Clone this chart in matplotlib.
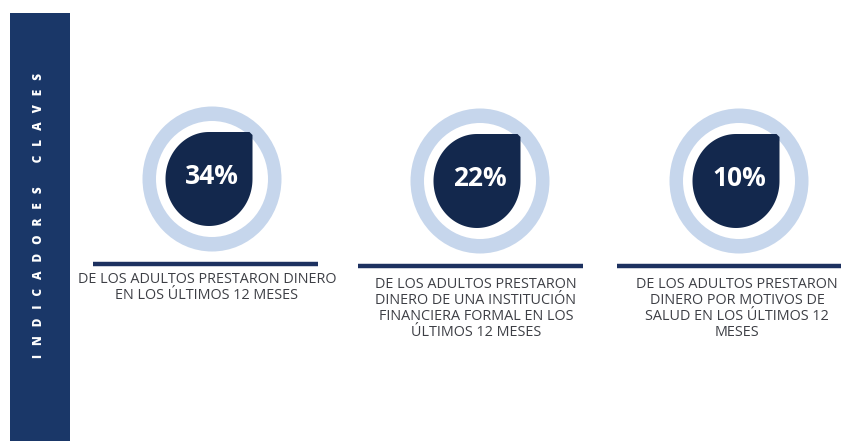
import numpy as np
import matplotlib
matplotlib.use("Agg")
import matplotlib.pyplot as plt
from matplotlib.patches import Ellipse, Rectangle, Polygon

# ---- data ----
percent_values = [34, 22, 10]
captions = [
    "DE LOS ADULTOS PRESTARON DINERO\nEN LOS ÚLTIMOS 12 MESES",
    "DE LOS ADULTOS PRESTARON\nDINERO DE UNA INSTITUCIÓN\nFINANCIERA FORMAL EN LOS\nÚLTIMOS 12 MESES",
    "DE LOS ADULTOS PRESTARON\nDINERO POR MOTIVOS DE\nSALUD EN LOS ÚLTIMOS 12\nMESES",
]
sidebar_title = "INDICADORES CLAVES"

# ---- layout (pixel coordinates) ----
W, H = 841, 441
ring_cx = [212, 480, 739]
ring_cy = [179, 181, 181]
dark_dx = -3
line_x0 = [93, 358, 617]
line_x1 = [318, 583, 841]
line_y = [264, 266, 266]
text_cx = [207, 476, 737]
text_y0 = [270, 275, 275]

NAVY = "#13284d"
RING = "#c6d6ec"
SIDEBAR = "#1a3768"
LINE = "#1d3160"
TXT = "#3d3f45"

fig = plt.figure(figsize=(W / 100, H / 100), dpi=100)
ax = fig.add_axes([0, 0, 1, 1])
ax.set_xlim(0, W)
ax.set_ylim(H, 0)
ax.axis("off")
fig.patch.set_facecolor("white")

# sidebar
ax.add_patch(Rectangle((10, 13), 60, H - 13, facecolor=SIDEBAR, edgecolor="none"))
spaced = (" " * 8).join("   ".join(w) for w in sidebar_title.split())
ax.text(39, 215, spaced, rotation=90, ha="center", va="center",
        color="white", fontsize=8.5, fontweight="heavy", family="Open Sans")

rx_out, ry_out = 69.5, 72.5
ring_w = 13.5
rx_d, ry_d = 43.5, 47

for i, v in enumerate(percent_values):
    cx, cy = ring_cx[i], ring_cy[i]
    # ring
    ax.add_patch(Ellipse((cx, cy), 2 * rx_out, 2 * ry_out, facecolor=RING, edgecolor="none"))
    ax.add_patch(Ellipse((cx, cy), 2 * (rx_out - ring_w), 2 * (ry_out - ring_w - 1),
                         facecolor="white", edgecolor="none"))
    # teardrop shape: circle with square top-right corner
    dcx = cx + dark_dx
    t = np.linspace(np.pi / 2, 2 * np.pi, 120)
    pts = np.column_stack([dcx + rx_d * np.cos(t), cy - ry_d * np.sin(t)])
    corner = np.array([[dcx + rx_d, cy - ry_d + 3], [dcx + rx_d - 3, cy - ry_d]])
    pts = np.vstack([pts, corner])
    ax.add_patch(Polygon(pts, closed=True, facecolor=NAVY, edgecolor="none"))
    ax.text(dcx + 3, cy - 2, f"{v}%", ha="center", va="center", color="white",
            fontsize=19, fontweight="bold", family="Open Sans")
    # underline
    ax.plot([line_x0[i], line_x1[i]], [line_y[i], line_y[i]], color=LINE, lw=3.2,
            solid_capstyle="butt")
    # caption
    ax.text(text_cx[i], text_y0[i] + 2, captions[i], ha="center", va="top", color=TXT,
            fontsize=10.4, family="Open Sans", linespacing=1.08)

fig.savefig("out.png", dpi=100)
